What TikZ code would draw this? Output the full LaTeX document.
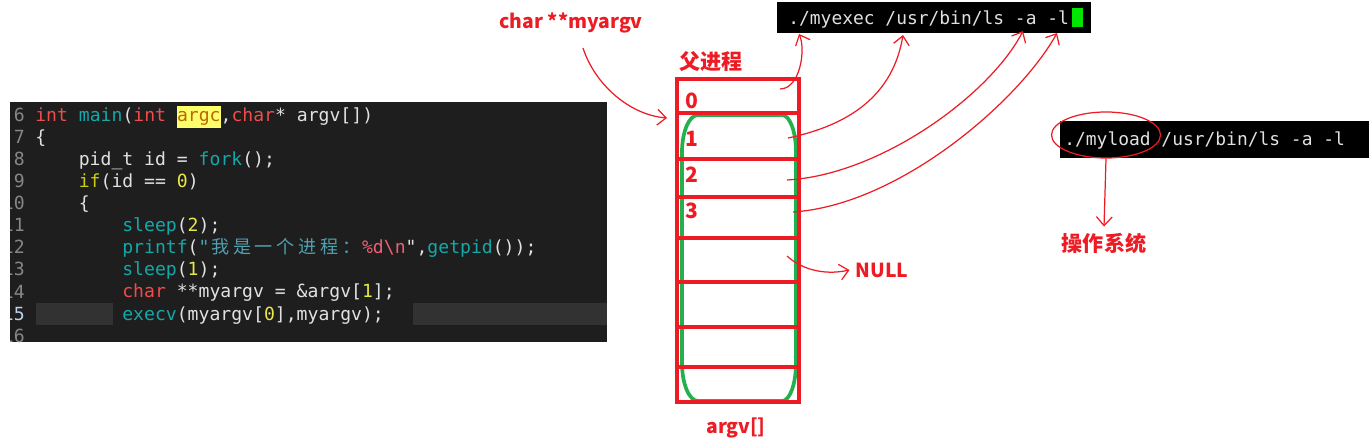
\documentclass[tikz,border=0pt]{standalone}
\usepackage{fontspec}
\usepackage{xcolor}
\usepackage{tikz}
\usetikzlibrary{arrows.meta, shapes.geometric}
\newfontfamily\codefont{DejaVu Sans Mono}
\newfontfamily\cjk{Noto Sans CJK SC}
\definecolor{panel}{RGB}{30,30,30}
\definecolor{curline}{RGB}{50,50,50}
\definecolor{codetxt}{RGB}{225,225,225}
\definecolor{kwred}{RGB}{241,76,76}
\definecolor{fnteal}{RGB}{20,168,168}
\definecolor{numyel}{RGB}{232,232,70}
\definecolor{ctlyel}{RGB}{205,205,20}
\definecolor{strteal}{RGB}{80,160,175}
\definecolor{escpink}{RGB}{236,96,116}
\definecolor{hlyel}{RGB}{255,255,110}
\definecolor{hltxt}{RGB}{185,105,0}
\definecolor{lnum}{RGB}{135,135,135}
\definecolor{lnumcur}{RGB}{190,210,235}
\definecolor{paintred}{RGB}{237,28,36}
\definecolor{paintgreen}{RGB}{34,177,76}
\definecolor{cursorgreen}{RGB}{0,230,0}
\newcommand\kw[1]{\textcolor{kwred}{#1}}
\newcommand\fn[1]{\textcolor{fnteal}{#1}}
\newcommand\nm[1]{\textcolor{numyel}{#1}}
\newcommand\ctl[1]{\textcolor{ctlyel}{#1}}
\newcommand\strc[1]{\textcolor{strteal}{#1}}
\newcommand\esc[1]{\textcolor{escpink}{#1}}
\newcommand\zh[1]{\makebox[1.204em]{\cjk #1}}
\newcommand\hlword[1]{{\setlength\fboxsep{0pt}\colorbox{hlyel}{\strut\textcolor{hltxt}{#1}}}}
\tikzstyle{codeline} = [anchor=base west, inner sep=0pt, text=codetxt,
                        font=\codefont\fontsize{10.3}{12.4}\selectfont]
\tikzstyle{lineno}   = [anchor=base east, inner sep=0pt, text=lnum,
                        font=\codefont\fontsize{10.3}{12.4}\selectfont]
\tikzstyle{termtext} = [anchor=base west, inner sep=0pt, text=codetxt,
                        font=\codefont\fontsize{10.2}{12.4}\selectfont]
\tikzstyle{termbox}  = [rectangle, fill=black, inner sep=0pt]
\tikzstyle{redlabel} = [text=paintred, font=\cjk\bfseries\fontsize{11}{13}\selectfont]
\tikzstyle{cjklabel} = [text=paintred, font=\cjk\bfseries\fontsize{12}{14}\selectfont]
\tikzstyle{cellnum}  = [anchor=west, inner sep=0pt, text=paintred,
                        font=\cjk\bfseries\fontsize{12}{14}\selectfont]
\tikzstyle{hand}     = [draw=paintred, line width=0.7pt,
                        -{Straight Barb[length=5pt,width=9pt]}]
\tikzstyle{ring}     = [ellipse, draw=paintred, line width=0.7pt, inner sep=0pt]
\tikzstyle{redline}  = [draw=paintred, line width=2pt]
\tikzstyle{greenline}= [draw=paintgreen, line width=2.1pt]

\begin{document}
\begin{tikzpicture}[x=0.2mm, y=-0.2mm]
  \useasboundingbox (0,0) rectangle (1369,444);

  % code window
  \begin{scope}
    \clip (10,102) rectangle (607,342);
    \fill[panel] (10,102) rectangle (607,342);
    \fill[curline] (36,303) rectangle (113,325);
    \fill[curline] (413,303) rectangle (607,325);
    \foreach \n [evaluate=\n as \yb using {121.7+(\n-6)*22.04}] in {6,...,14,16}
      \node[lineno] (ln\n) at (25,\yb) {\n};
    \node[lineno, text=lnumcur] (ln15) at (25,320.1) {15};
    \node[codeline] (code6)  at (35,121.7)
      {\kw{int} \fn{main}(\kw{int} \hlword{argc},\kw{char}* argv[])};
    \node[codeline] (code7)  at (35,143.7) {\{};
    \node[codeline] (code8)  at (78.5,165.8) {pid\_t id = \fn{fork}();};
    \node[codeline] (code9)  at (78.5,187.8) {\ctl{if}(id == \nm{0})};
    \node[codeline] (code10) at (78.5,209.9) {\{};
    \node[codeline] (code11) at (122,231.9) {\fn{sleep}(\nm{2});};
    \node[codeline] (code12) at (122,253.9)
      {\fn{printf}(\strc{"\zh{我}\zh{是}\zh{一}\zh{个}\zh{进}\zh{程}\zh{：}}\esc{\%d\textbackslash n}",\fn{getpid}());};
    \node[codeline] (code13) at (122,276.0) {\fn{sleep}(\nm{1});};
    \node[codeline] (code14) at (122,298.0) {\kw{char} **myargv = \&argv[\nm{1}];};
    \node[codeline] (code15) at (122,320.1) {\fn{execv}(myargv[\nm{0}],myargv);};
  \end{scope}

  % argv[] array
  \node[redlabel] (myargvlbl) at (571,23) {char **myargv};
  \node[cjklabel] (parentlbl) at (711,62) {父进程};
  \draw[greenline] (682,152) -- (682,363)
    arc[start angle=180, end angle=90, x radius=16, y radius=38] -- (782,401)
    arc[start angle=90, end angle=0, x radius=14, y radius=38] -- (796,152)
    arc[start angle=0, end angle=-90, x radius=14, y radius=37] -- (698,115)
    arc[start angle=-90, end angle=-180, x radius=16, y radius=37] -- cycle;
  \draw[redline] (677,79) rectangle (799,402);
  \foreach \y in {113,159,197,238,282,327,367}
    \draw[redline] (677,\y) -- (799,\y);
  \node[cellnum] (cell0) at (685,101) {0};
  \node[cellnum] (cell1) at (685,139) {1};
  \node[cellnum] (cell2) at (685,175) {2};
  \node[cellnum] (cell3) at (685,211) {3};
  \node[redlabel] (nulllbl) at (882,270) {NULL};
  \node[redlabel] (argvlbl) at (736,428) {argv[]};

  % command lines
  \node[termbox, minimum width=314*0.2mm, minimum height=31*0.2mm] (term1) at (934,17.5) {};
  \node[termtext] (cmd1) at (788,25) {./myexec /usr/bin/ls -a -l};
  \fill[cursorgreen] (1072,8) rectangle (1083,27);
  \node[termbox, minimum width=309*0.2mm, minimum height=37*0.2mm] (term2) at (1214.5,140) {};
  \node[termtext] (cmd2) at (1064,146) {./myload /usr/bin/ls -a -l};
  \node[ring, minimum width=109*0.2mm, minimum height=46*0.2mm] (ring) at (1106,135) {};
  \node[cjklabel] (os) at (1104,243) {操作系统};

  % hand drawn arrows
  \coordinate (myargvtail) at (583,48);
  \coordinate (cellonetip) at (667,118);
  \coordinate (row0) at (780,89);
  \coordinate (row1) at (788,138);
  \coordinate (row2) at (787,180);
  \coordinate (row3) at (793,212);
  \coordinate (row4) at (787,256);
  \coordinate (prog)  at (799,34);
  \coordinate (path)  at (903,35);
  \coordinate (opta)  at (1023,31);
  \coordinate (optl)  at (1057,33);

  \draw[hand] (myargvtail) .. controls (595,85) and (630,115) .. (cellonetip);
  \draw[hand] (row0) .. controls (800,89) and (806,50) .. (prog);
  \draw[hand] (row1) .. controls (850,125) and (893,95) .. (path);
  \draw[hand] (row2) .. controls (880,175) and (990,95) .. (opta);
  \draw[hand] (row3) .. controls (900,205) and (1020,100) .. (optl);
  \draw[hand] (row4) .. controls (800,268) and (822,276) .. (nulllbl.west);
  \draw[hand] (ring.south) -- (os.north);
\end{tikzpicture}
\end{document}
